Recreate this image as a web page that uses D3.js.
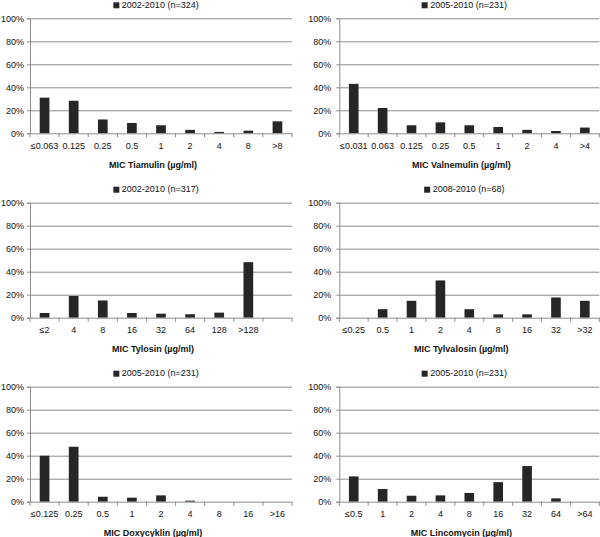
<!DOCTYPE html>
<html><head><meta charset="utf-8">
<script src="https://cdn.jsdelivr.net/npm/d3@7"></script>
<style>
body{margin:0;background:#fff;}
svg{display:block;font-family:"Liberation Sans",Arial,sans-serif;}
</style></head>
<body><svg id="c" width="600" height="537"></svg>
<script>
// ---- data ----
const cats1 = ["≤0.063","0.125","0.25","0.5","1","2","4","8",">8"];
const vals1 = [31,28.3,12,9,7,3,1.2,2.3,10.4];
const cats2 = ["≤0.031","0.063","0.125","0.25","0.5","1","2","4",">4"];
const vals2 = [43,22,7,9.5,7,5.5,3,2,5];
const cats3 = ["≤2","4","8","16","32","64","128",">128",""];
const vals3 = [4.1,18.9,15,4.1,3.5,3,4.4,48.3,0];
const cats4 = ["≤0.25","0.5","1","2","4","8","16","32",">32"];
const vals4 = [0,7.4,14.7,32.4,7.4,2.9,2.9,17.6,14.7];
const cats5 = ["≤0.125","0.25","0.5","1","2","4","8","16",">16"];
const vals5 = [40,47.8,4.3,3.5,5.5,0.9,0,0,0];
const cats6 = ["≤0.5","1","2","4","8","16","32","64",">64"];
const vals6 = [22,11,5.2,5.5,7.6,17,31,2.9,0];
const legends = ["2002-2010 (n=324)","2005-2010 (n=231)","2002-2010 (n=317)","2008-2010 (n=68)","2005-2010 (n=231)","2005-2010 (n=231)"];
const titles = ["MIC Tiamulin (µg/ml)","MIC Valnemulin (µg/ml)","MIC Tylosin (µg/ml)","MIC Tylvalosin (µg/ml)","MIC Doxycyklin (µg/ml)","MIC Lincomycin (µg/ml)"];
const yTicks = [0,20,40,60,80,100];

const panels = [
  {cats:cats1, vals:vals1},{cats:cats2, vals:vals2},
  {cats:cats3, vals:vals3},{cats:cats4, vals:vals4},
  {cats:cats5, vals:vals5},{cats:cats6, vals:vals6}
];

const svg = d3.select("#c");
const tops = [18.3, 202.7, 386.7];
const plotH = 115;
const lefts = [30, 339.3];
const widths = [262, 260];
const gridCol = "#8c8c8c";
const barCol = "#262626";

panels.forEach((p, i) => {
  const col = i % 2, row = Math.floor(i / 2);
  const x0 = lefts[col], w = widths[col], t = tops[row];
  const g = svg.append("g").attr("transform", `translate(${x0},${t})`);
  const x = d3.scaleBand().domain(p.cats).range([0, w]).paddingInner(0.667).paddingOuter(0.3335);
  const y = d3.scaleLinear().domain([0, 100]).range([plotH, 0]);

  // gridlines
  const grid = g.append("g").call(d3.axisLeft(y).tickValues(yTicks.slice(1)).tickSize(-w).tickFormat(""));
  grid.select(".domain").remove();
  grid.selectAll("line").attr("stroke", gridCol).attr("stroke-width", 1);

  // y axis
  const ya = g.append("g").call(d3.axisLeft(y).tickValues(yTicks).tickSize(3).tickPadding(col === 0 ? 3 : 5).tickFormat(d => d + "%"));
  ya.select(".domain").attr("stroke", gridCol);
  ya.selectAll("line").attr("stroke", gridCol);
  ya.selectAll("text").attr("font-size", 9).attr("fill", "#111").attr("font-family", "Liberation Sans, Arial, sans-serif");

  // bars
  g.selectAll("rect.bar").data(p.cats.map((c, k) => ({c, v: p.vals[k]})).filter(d => d.v > 0))
    .enter().append("rect").attr("class", "bar")
    .attr("x", d => x(d.c)).attr("width", x.bandwidth())
    .attr("y", d => y(d.v)).attr("height", d => plotH - y(d.v))
    .attr("fill", barCol);

  // x axis line
  const xa = g.append("g").attr("transform", `translate(0,${plotH})`)
    .call(d3.axisBottom(x).tickSize(0).tickPadding(9));
  xa.select(".domain").attr("stroke", gridCol);
  xa.selectAll("text").attr("font-size", 9).attr("fill", "#111").attr("font-family", "Liberation Sans, Arial, sans-serif");
  // boundary tick marks
  const step = x.step();
  g.append("g").selectAll("line").data(d3.range(p.cats.length + 1)).enter().append("line")
    .attr("x1", k => x.range()[0] + k * step).attr("x2", k => x.range()[0] + k * step)
    .attr("y1", plotH).attr("y2", plotH + 4).attr("stroke", gridCol);

  // legend
  const cx = w / 2 - 5;
  const lg = g.append("g");
  const lt = lg.append("text").attr("y", -10.5).attr("font-size", 9).attr("fill", "#111").text(legends[i]);
  const tw = lt.node().getComputedTextLength();
  const total = 6 + 2.5 + tw;
  const lx = cx - total / 2;
  lg.append("rect").attr("x", lx).attr("y", -16).attr("width", 6).attr("height", 6).attr("fill", barCol);
  lt.attr("x", lx + 8.5);

  // title
  g.append("text").attr("x", w / 2 - 8).attr("y", plotH + 34.5).attr("text-anchor", "middle")
    .attr("font-size", 9).attr("font-weight", "bold").attr("fill", "#111").text(titles[i]);
});
</script></body></html>
